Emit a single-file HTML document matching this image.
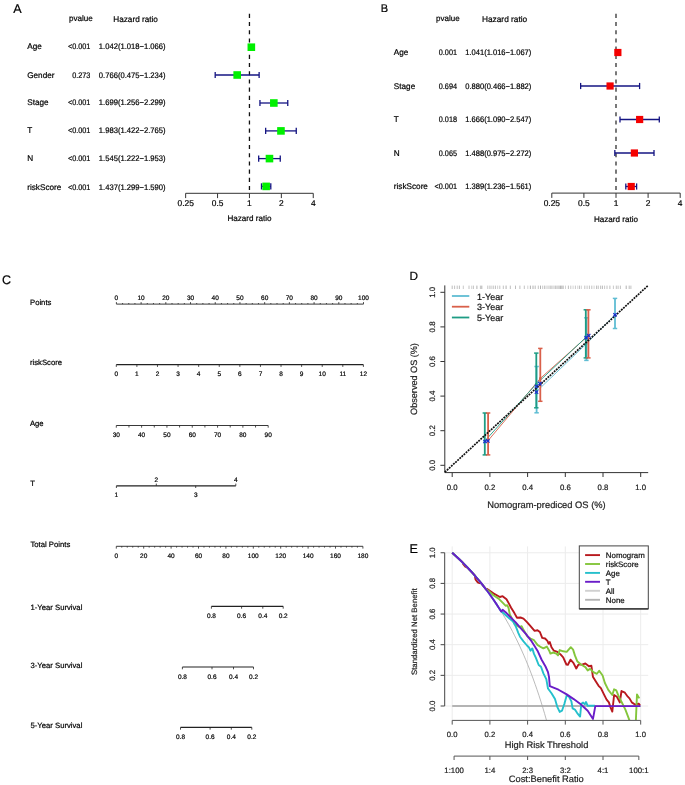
<!DOCTYPE html>
<html><head><meta charset="utf-8"><style>
html,body{margin:0;padding:0;background:#fff;}
body{width:685px;height:785px;overflow:hidden;font-family:"Liberation Sans",sans-serif;}
svg{display:block;will-change:transform;text-rendering:geometricPrecision;}
text{stroke-width:0.2px;}
</style></head><body>
<svg width="685" height="785" viewBox="0 0 685 785" font-family="Liberation Sans, sans-serif">
<rect width="685" height="785" fill="#fff"/>
<text x="13.2" y="12.8" font-size="12.6" text-anchor="start" fill="#000" stroke="#000">A</text>
<text x="68.9" y="20.9" font-size="8.1" text-anchor="start" fill="#000" stroke="#000">pvalue</text>
<text x="113.3" y="21.7" font-size="8.2" text-anchor="start" fill="#000" stroke="#000">Hazard ratio</text>
<text x="27.2" y="49.2" font-size="8.2" text-anchor="start" fill="#000" stroke="#000">Age</text>
<text x="90.4" y="49.2" font-size="8" text-anchor="end" fill="#000" stroke="#000" textLength="22.47" lengthAdjust="spacingAndGlyphs">&lt;0.001</text>
<text x="165.6" y="49.2" font-size="8" text-anchor="end" fill="#000" stroke="#000" textLength="66.8" lengthAdjust="spacingAndGlyphs">1.042(1.018−1.066)</text>
<text x="27.2" y="77.6" font-size="8.2" text-anchor="start" fill="#000" stroke="#000">Gender</text>
<text x="90.4" y="77.6" font-size="8" text-anchor="end" fill="#000" stroke="#000" textLength="18.22" lengthAdjust="spacingAndGlyphs">0.273</text>
<text x="165.6" y="77.6" font-size="8" text-anchor="end" fill="#000" stroke="#000" textLength="66.8" lengthAdjust="spacingAndGlyphs">0.766(0.475−1.234)</text>
<text x="27.2" y="105.3" font-size="8.2" text-anchor="start" fill="#000" stroke="#000">Stage</text>
<text x="90.4" y="105.3" font-size="8" text-anchor="end" fill="#000" stroke="#000" textLength="22.47" lengthAdjust="spacingAndGlyphs">&lt;0.001</text>
<text x="165.6" y="105.3" font-size="8" text-anchor="end" fill="#000" stroke="#000" textLength="66.8" lengthAdjust="spacingAndGlyphs">1.699(1.256−2.299)</text>
<text x="27.2" y="133.3" font-size="8.2" text-anchor="start" fill="#000" stroke="#000">T</text>
<text x="90.4" y="133.3" font-size="8" text-anchor="end" fill="#000" stroke="#000" textLength="22.47" lengthAdjust="spacingAndGlyphs">&lt;0.001</text>
<text x="165.6" y="133.3" font-size="8" text-anchor="end" fill="#000" stroke="#000" textLength="66.8" lengthAdjust="spacingAndGlyphs">1.983(1.422−2.765)</text>
<text x="27.2" y="161.3" font-size="8.2" text-anchor="start" fill="#000" stroke="#000">N</text>
<text x="90.4" y="161.3" font-size="8" text-anchor="end" fill="#000" stroke="#000" textLength="22.47" lengthAdjust="spacingAndGlyphs">&lt;0.001</text>
<text x="165.6" y="161.3" font-size="8" text-anchor="end" fill="#000" stroke="#000" textLength="66.8" lengthAdjust="spacingAndGlyphs">1.545(1.222−1.953)</text>
<text x="27.2" y="189.5" font-size="8.2" text-anchor="start" fill="#000" stroke="#000">riskScore</text>
<text x="90.4" y="189.5" font-size="8" text-anchor="end" fill="#000" stroke="#000" textLength="22.47" lengthAdjust="spacingAndGlyphs">&lt;0.001</text>
<text x="165.6" y="189.5" font-size="8" text-anchor="end" fill="#000" stroke="#000" textLength="66.8" lengthAdjust="spacingAndGlyphs">1.437(1.299−1.590)</text>
<line x1="249.45" y1="13.8" x2="249.45" y2="193.3" stroke="#111" stroke-width="1.3" stroke-dasharray="4.1 4.1"/>
<line x1="250.27" y1="47.2" x2="252.39" y2="47.2" stroke="#141482" stroke-width="1.3"/>
<line x1="250.27" y1="44.1" x2="250.27" y2="50.3" stroke="#141482" stroke-width="1.3"/>
<line x1="252.39" y1="44.1" x2="252.39" y2="50.3" stroke="#141482" stroke-width="1.3"/>
<rect x="247.54" y="43.4" width="7.6" height="7.6" fill="#00f000"/>
<line x1="215.19" y1="75" x2="259.13" y2="75" stroke="#141482" stroke-width="1.3"/>
<line x1="215.19" y1="71.9" x2="215.19" y2="78.1" stroke="#141482" stroke-width="1.3"/>
<line x1="259.13" y1="71.9" x2="259.13" y2="78.1" stroke="#141482" stroke-width="1.3"/>
<rect x="233.38" y="71.2" width="7.6" height="7.6" fill="#00f000"/>
<line x1="259.94" y1="103" x2="287.76" y2="103" stroke="#141482" stroke-width="1.3"/>
<line x1="259.94" y1="99.9" x2="259.94" y2="106.1" stroke="#141482" stroke-width="1.3"/>
<line x1="287.76" y1="99.9" x2="287.76" y2="106.1" stroke="#141482" stroke-width="1.3"/>
<rect x="270.04" y="99.2" width="7.6" height="7.6" fill="#00f000"/>
<line x1="265.65" y1="130.9" x2="296.26" y2="130.9" stroke="#141482" stroke-width="1.3"/>
<line x1="265.65" y1="127.8" x2="265.65" y2="134" stroke="#141482" stroke-width="1.3"/>
<line x1="296.26" y1="127.8" x2="296.26" y2="134" stroke="#141482" stroke-width="1.3"/>
<rect x="277.16" y="127.1" width="7.6" height="7.6" fill="#00f000"/>
<line x1="258.68" y1="158.6" x2="280.26" y2="158.6" stroke="#141482" stroke-width="1.3"/>
<line x1="258.68" y1="155.5" x2="258.68" y2="161.7" stroke="#141482" stroke-width="1.3"/>
<line x1="280.26" y1="155.5" x2="280.26" y2="161.7" stroke="#141482" stroke-width="1.3"/>
<rect x="265.67" y="154.8" width="7.6" height="7.6" fill="#00f000"/>
<line x1="261.49" y1="186.4" x2="270.79" y2="186.4" stroke="#141482" stroke-width="1.3"/>
<line x1="261.49" y1="183.3" x2="261.49" y2="189.5" stroke="#141482" stroke-width="1.3"/>
<line x1="270.79" y1="183.3" x2="270.79" y2="189.5" stroke="#141482" stroke-width="1.3"/>
<rect x="262.34" y="182.6" width="7.6" height="7.6" fill="#00f000"/>
<line x1="185.65" y1="193.3" x2="313.25" y2="193.3" stroke="#333" stroke-width="1"/>
<line x1="185.65" y1="193.3" x2="185.65" y2="198.1" stroke="#333" stroke-width="1"/>
<text x="185.65" y="206.4" font-size="8.4" text-anchor="middle" fill="#000" stroke="#000">0.25</text>
<line x1="217.55" y1="193.3" x2="217.55" y2="198.1" stroke="#333" stroke-width="1"/>
<text x="217.55" y="206.4" font-size="8.4" text-anchor="middle" fill="#000" stroke="#000">0.5</text>
<line x1="249.45" y1="193.3" x2="249.45" y2="198.1" stroke="#333" stroke-width="1"/>
<text x="249.45" y="206.4" font-size="8.4" text-anchor="middle" fill="#000" stroke="#000">1</text>
<line x1="281.35" y1="193.3" x2="281.35" y2="198.1" stroke="#333" stroke-width="1"/>
<text x="281.35" y="206.4" font-size="8.4" text-anchor="middle" fill="#000" stroke="#000">2</text>
<line x1="313.25" y1="193.3" x2="313.25" y2="198.1" stroke="#333" stroke-width="1"/>
<text x="313.25" y="206.4" font-size="8.4" text-anchor="middle" fill="#000" stroke="#000">4</text>
<text x="249.45" y="221.3" font-size="8.1" text-anchor="middle" fill="#000" stroke="#000">Hazard ratio</text>
<text x="380.7" y="12.2" font-size="11" text-anchor="start" fill="#000" stroke="#000">B</text>
<text x="436" y="20.7" font-size="8" text-anchor="start" fill="#000" stroke="#000">pvalue</text>
<text x="482" y="21.5" font-size="8.3" text-anchor="start" fill="#000" stroke="#000">Hazard ratio</text>
<text x="393.8" y="54.9" font-size="8.2" text-anchor="start" fill="#000" stroke="#000">Age</text>
<text x="457" y="54.9" font-size="8" text-anchor="end" fill="#000" stroke="#000" textLength="18.22" lengthAdjust="spacingAndGlyphs">0.001</text>
<text x="531.3" y="54.9" font-size="8" text-anchor="end" fill="#000" stroke="#000" textLength="66" lengthAdjust="spacingAndGlyphs">1.041(1.016−1.067)</text>
<text x="393.8" y="88.5" font-size="8.2" text-anchor="start" fill="#000" stroke="#000">Stage</text>
<text x="457" y="88.5" font-size="8" text-anchor="end" fill="#000" stroke="#000" textLength="18.22" lengthAdjust="spacingAndGlyphs">0.694</text>
<text x="531.3" y="88.5" font-size="8" text-anchor="end" fill="#000" stroke="#000" textLength="66" lengthAdjust="spacingAndGlyphs">0.880(0.466−1.882)</text>
<text x="393.8" y="122.4" font-size="8.2" text-anchor="start" fill="#000" stroke="#000">T</text>
<text x="457" y="122.4" font-size="8" text-anchor="end" fill="#000" stroke="#000" textLength="18.22" lengthAdjust="spacingAndGlyphs">0.018</text>
<text x="531.3" y="122.4" font-size="8" text-anchor="end" fill="#000" stroke="#000" textLength="66" lengthAdjust="spacingAndGlyphs">1.666(1.090−2.547)</text>
<text x="393.8" y="155.8" font-size="8.2" text-anchor="start" fill="#000" stroke="#000">N</text>
<text x="457" y="155.8" font-size="8" text-anchor="end" fill="#000" stroke="#000" textLength="18.22" lengthAdjust="spacingAndGlyphs">0.065</text>
<text x="531.3" y="155.8" font-size="8" text-anchor="end" fill="#000" stroke="#000" textLength="66" lengthAdjust="spacingAndGlyphs">1.488(0.975−2.272)</text>
<text x="393.8" y="189.4" font-size="8.2" text-anchor="start" fill="#000" stroke="#000">riskScore</text>
<text x="457" y="189.4" font-size="8" text-anchor="end" fill="#000" stroke="#000" textLength="22.47" lengthAdjust="spacingAndGlyphs">&lt;0.001</text>
<text x="531.3" y="189.4" font-size="8" text-anchor="end" fill="#000" stroke="#000" textLength="66" lengthAdjust="spacingAndGlyphs">1.389(1.236−1.561)</text>
<line x1="616" y1="13.8" x2="616" y2="193.1" stroke="#585858" stroke-width="1.6" stroke-dasharray="4.1 4.1"/>
<line x1="616.74" y1="52.5" x2="619" y2="52.5" stroke="#141482" stroke-width="1.3"/>
<line x1="616.74" y1="49.4" x2="616.74" y2="55.6" stroke="#141482" stroke-width="1.3"/>
<line x1="619" y1="49.4" x2="619" y2="55.6" stroke="#141482" stroke-width="1.3"/>
<rect x="614.26" y="48.9" width="7.2" height="7.2" fill="#f40000"/>
<line x1="580.64" y1="86" x2="639.6" y2="86" stroke="#141482" stroke-width="1.3"/>
<line x1="580.64" y1="82.9" x2="580.64" y2="89.1" stroke="#141482" stroke-width="1.3"/>
<line x1="639.6" y1="82.9" x2="639.6" y2="89.1" stroke="#141482" stroke-width="1.3"/>
<rect x="606.48" y="82.4" width="7.2" height="7.2" fill="#f40000"/>
<line x1="619.99" y1="119.5" x2="659.3" y2="119.5" stroke="#141482" stroke-width="1.3"/>
<line x1="619.99" y1="116.4" x2="619.99" y2="122.6" stroke="#141482" stroke-width="1.3"/>
<line x1="659.3" y1="116.4" x2="659.3" y2="122.6" stroke="#141482" stroke-width="1.3"/>
<rect x="636.04" y="115.9" width="7.2" height="7.2" fill="#f40000"/>
<line x1="614.83" y1="153" x2="654.01" y2="153" stroke="#141482" stroke-width="1.3"/>
<line x1="614.83" y1="149.9" x2="614.83" y2="156.1" stroke="#141482" stroke-width="1.3"/>
<line x1="654.01" y1="149.9" x2="654.01" y2="156.1" stroke="#141482" stroke-width="1.3"/>
<rect x="630.81" y="149.4" width="7.2" height="7.2" fill="#f40000"/>
<line x1="625.81" y1="186.5" x2="636.62" y2="186.5" stroke="#141482" stroke-width="1.3"/>
<line x1="625.81" y1="183.4" x2="625.81" y2="189.6" stroke="#141482" stroke-width="1.3"/>
<line x1="636.62" y1="183.4" x2="636.62" y2="189.6" stroke="#141482" stroke-width="1.3"/>
<rect x="627.62" y="182.9" width="7.2" height="7.2" fill="#f40000"/>
<line x1="551.8" y1="193.1" x2="680.2" y2="193.1" stroke="#333" stroke-width="1"/>
<line x1="551.8" y1="193.1" x2="551.8" y2="197.9" stroke="#333" stroke-width="1"/>
<text x="551.8" y="206.4" font-size="8.4" text-anchor="middle" fill="#000" stroke="#000">0.25</text>
<line x1="583.9" y1="193.1" x2="583.9" y2="197.9" stroke="#333" stroke-width="1"/>
<text x="583.9" y="206.4" font-size="8.4" text-anchor="middle" fill="#000" stroke="#000">0.5</text>
<line x1="616" y1="193.1" x2="616" y2="197.9" stroke="#333" stroke-width="1"/>
<text x="616" y="206.4" font-size="8.4" text-anchor="middle" fill="#000" stroke="#000">1</text>
<line x1="648.1" y1="193.1" x2="648.1" y2="197.9" stroke="#333" stroke-width="1"/>
<text x="648.1" y="206.4" font-size="8.4" text-anchor="middle" fill="#000" stroke="#000">2</text>
<line x1="680.2" y1="193.1" x2="680.2" y2="197.9" stroke="#333" stroke-width="1"/>
<text x="680.2" y="206.4" font-size="8.4" text-anchor="middle" fill="#000" stroke="#000">4</text>
<text x="616" y="221.9" font-size="8.1" text-anchor="middle" fill="#000" stroke="#000">Hazard ratio</text>
<text x="2" y="284" font-size="12.5" text-anchor="start" fill="#000" stroke="#000">C</text>
<text x="30" y="304.8" font-size="7.7" text-anchor="start" fill="#000" stroke="#000">Points</text>
<line x1="116.4" y1="304.1" x2="363.5" y2="304.1" stroke="#222" stroke-width="0.9"/>
<line x1="116.4" y1="304.1" x2="116.4" y2="302.1" stroke="#222" stroke-width="0.8"/>
<text x="116.4" y="300" font-size="6.5" text-anchor="middle" fill="#000" stroke="#000">0</text>
<line x1="122.58" y1="304.1" x2="122.58" y2="303" stroke="#222" stroke-width="0.8"/>
<line x1="128.75" y1="304.1" x2="128.75" y2="303" stroke="#222" stroke-width="0.8"/>
<line x1="134.93" y1="304.1" x2="134.93" y2="303" stroke="#222" stroke-width="0.8"/>
<line x1="141.11" y1="304.1" x2="141.11" y2="302.1" stroke="#222" stroke-width="0.8"/>
<text x="141.11" y="300" font-size="6.5" text-anchor="middle" fill="#000" stroke="#000">10</text>
<line x1="147.29" y1="304.1" x2="147.29" y2="303" stroke="#222" stroke-width="0.8"/>
<line x1="153.47" y1="304.1" x2="153.47" y2="303" stroke="#222" stroke-width="0.8"/>
<line x1="159.64" y1="304.1" x2="159.64" y2="303" stroke="#222" stroke-width="0.8"/>
<line x1="165.82" y1="304.1" x2="165.82" y2="302.1" stroke="#222" stroke-width="0.8"/>
<text x="165.82" y="300" font-size="6.5" text-anchor="middle" fill="#000" stroke="#000">20</text>
<line x1="172" y1="304.1" x2="172" y2="303" stroke="#222" stroke-width="0.8"/>
<line x1="178.18" y1="304.1" x2="178.18" y2="303" stroke="#222" stroke-width="0.8"/>
<line x1="184.35" y1="304.1" x2="184.35" y2="303" stroke="#222" stroke-width="0.8"/>
<line x1="190.53" y1="304.1" x2="190.53" y2="302.1" stroke="#222" stroke-width="0.8"/>
<text x="190.53" y="300" font-size="6.5" text-anchor="middle" fill="#000" stroke="#000">30</text>
<line x1="196.71" y1="304.1" x2="196.71" y2="303" stroke="#222" stroke-width="0.8"/>
<line x1="202.88" y1="304.1" x2="202.88" y2="303" stroke="#222" stroke-width="0.8"/>
<line x1="209.06" y1="304.1" x2="209.06" y2="303" stroke="#222" stroke-width="0.8"/>
<line x1="215.24" y1="304.1" x2="215.24" y2="302.1" stroke="#222" stroke-width="0.8"/>
<text x="215.24" y="300" font-size="6.5" text-anchor="middle" fill="#000" stroke="#000">40</text>
<line x1="221.42" y1="304.1" x2="221.42" y2="303" stroke="#222" stroke-width="0.8"/>
<line x1="227.59" y1="304.1" x2="227.59" y2="303" stroke="#222" stroke-width="0.8"/>
<line x1="233.77" y1="304.1" x2="233.77" y2="303" stroke="#222" stroke-width="0.8"/>
<line x1="239.95" y1="304.1" x2="239.95" y2="302.1" stroke="#222" stroke-width="0.8"/>
<text x="239.95" y="300" font-size="6.5" text-anchor="middle" fill="#000" stroke="#000">50</text>
<line x1="246.13" y1="304.1" x2="246.13" y2="303" stroke="#222" stroke-width="0.8"/>
<line x1="252.31" y1="304.1" x2="252.31" y2="303" stroke="#222" stroke-width="0.8"/>
<line x1="258.48" y1="304.1" x2="258.48" y2="303" stroke="#222" stroke-width="0.8"/>
<line x1="264.66" y1="304.1" x2="264.66" y2="302.1" stroke="#222" stroke-width="0.8"/>
<text x="264.66" y="300" font-size="6.5" text-anchor="middle" fill="#000" stroke="#000">60</text>
<line x1="270.84" y1="304.1" x2="270.84" y2="303" stroke="#222" stroke-width="0.8"/>
<line x1="277.01" y1="304.1" x2="277.01" y2="303" stroke="#222" stroke-width="0.8"/>
<line x1="283.19" y1="304.1" x2="283.19" y2="303" stroke="#222" stroke-width="0.8"/>
<line x1="289.37" y1="304.1" x2="289.37" y2="302.1" stroke="#222" stroke-width="0.8"/>
<text x="289.37" y="300" font-size="6.5" text-anchor="middle" fill="#000" stroke="#000">70</text>
<line x1="295.55" y1="304.1" x2="295.55" y2="303" stroke="#222" stroke-width="0.8"/>
<line x1="301.73" y1="304.1" x2="301.73" y2="303" stroke="#222" stroke-width="0.8"/>
<line x1="307.9" y1="304.1" x2="307.9" y2="303" stroke="#222" stroke-width="0.8"/>
<line x1="314.08" y1="304.1" x2="314.08" y2="302.1" stroke="#222" stroke-width="0.8"/>
<text x="314.08" y="300" font-size="6.5" text-anchor="middle" fill="#000" stroke="#000">80</text>
<line x1="320.26" y1="304.1" x2="320.26" y2="303" stroke="#222" stroke-width="0.8"/>
<line x1="326.44" y1="304.1" x2="326.44" y2="303" stroke="#222" stroke-width="0.8"/>
<line x1="332.61" y1="304.1" x2="332.61" y2="303" stroke="#222" stroke-width="0.8"/>
<line x1="338.79" y1="304.1" x2="338.79" y2="302.1" stroke="#222" stroke-width="0.8"/>
<text x="338.79" y="300" font-size="6.5" text-anchor="middle" fill="#000" stroke="#000">90</text>
<line x1="344.97" y1="304.1" x2="344.97" y2="303" stroke="#222" stroke-width="0.8"/>
<line x1="351.14" y1="304.1" x2="351.14" y2="303" stroke="#222" stroke-width="0.8"/>
<line x1="357.32" y1="304.1" x2="357.32" y2="303" stroke="#222" stroke-width="0.8"/>
<line x1="363.5" y1="304.1" x2="363.5" y2="302.1" stroke="#222" stroke-width="0.8"/>
<text x="363.5" y="300" font-size="6.5" text-anchor="middle" fill="#000" stroke="#000">100</text>
<text x="30" y="365.2" font-size="7.7" text-anchor="start" fill="#000" stroke="#000">riskScore</text>
<line x1="116.3" y1="364.7" x2="363.4" y2="364.7" stroke="#222" stroke-width="1.3"/>
<line x1="116.3" y1="364.7" x2="116.3" y2="366.9" stroke="#222" stroke-width="0.8"/>
<text x="116.3" y="376.2" font-size="6.5" text-anchor="middle" fill="#000" stroke="#000">0</text>
<line x1="136.89" y1="364.7" x2="136.89" y2="366.9" stroke="#222" stroke-width="0.8"/>
<text x="136.89" y="376.2" font-size="6.5" text-anchor="middle" fill="#000" stroke="#000">1</text>
<line x1="157.48" y1="364.7" x2="157.48" y2="366.9" stroke="#222" stroke-width="0.8"/>
<text x="157.48" y="376.2" font-size="6.5" text-anchor="middle" fill="#000" stroke="#000">2</text>
<line x1="178.07" y1="364.7" x2="178.07" y2="366.9" stroke="#222" stroke-width="0.8"/>
<text x="178.07" y="376.2" font-size="6.5" text-anchor="middle" fill="#000" stroke="#000">3</text>
<line x1="198.67" y1="364.7" x2="198.67" y2="366.9" stroke="#222" stroke-width="0.8"/>
<text x="198.67" y="376.2" font-size="6.5" text-anchor="middle" fill="#000" stroke="#000">4</text>
<line x1="219.26" y1="364.7" x2="219.26" y2="366.9" stroke="#222" stroke-width="0.8"/>
<text x="219.26" y="376.2" font-size="6.5" text-anchor="middle" fill="#000" stroke="#000">5</text>
<line x1="239.85" y1="364.7" x2="239.85" y2="366.9" stroke="#222" stroke-width="0.8"/>
<text x="239.85" y="376.2" font-size="6.5" text-anchor="middle" fill="#000" stroke="#000">6</text>
<line x1="260.44" y1="364.7" x2="260.44" y2="366.9" stroke="#222" stroke-width="0.8"/>
<text x="260.44" y="376.2" font-size="6.5" text-anchor="middle" fill="#000" stroke="#000">7</text>
<line x1="281.03" y1="364.7" x2="281.03" y2="366.9" stroke="#222" stroke-width="0.8"/>
<text x="281.03" y="376.2" font-size="6.5" text-anchor="middle" fill="#000" stroke="#000">8</text>
<line x1="301.62" y1="364.7" x2="301.62" y2="366.9" stroke="#222" stroke-width="0.8"/>
<text x="301.62" y="376.2" font-size="6.5" text-anchor="middle" fill="#000" stroke="#000">9</text>
<line x1="322.22" y1="364.7" x2="322.22" y2="366.9" stroke="#222" stroke-width="0.8"/>
<text x="322.22" y="376.2" font-size="6.5" text-anchor="middle" fill="#000" stroke="#000">10</text>
<line x1="342.81" y1="364.7" x2="342.81" y2="366.9" stroke="#222" stroke-width="0.8"/>
<text x="342.81" y="376.2" font-size="6.5" text-anchor="middle" fill="#000" stroke="#000">11</text>
<line x1="363.4" y1="364.7" x2="363.4" y2="366.9" stroke="#222" stroke-width="0.8"/>
<text x="363.4" y="376.2" font-size="6.5" text-anchor="middle" fill="#000" stroke="#000">12</text>
<text x="29.9" y="425.8" font-size="7.7" text-anchor="start" fill="#000" stroke="#000">Age</text>
<line x1="116.3" y1="425.5" x2="268.2" y2="425.5" stroke="#222" stroke-width="0.9"/>
<line x1="116.3" y1="425.5" x2="116.3" y2="427.7" stroke="#222" stroke-width="0.8"/>
<text x="116.3" y="436.5" font-size="6.5" text-anchor="middle" fill="#000" stroke="#000">30</text>
<line x1="128.96" y1="425.5" x2="128.96" y2="427.5" stroke="#222" stroke-width="0.8"/>
<line x1="141.62" y1="425.5" x2="141.62" y2="427.7" stroke="#222" stroke-width="0.8"/>
<text x="141.62" y="436.5" font-size="6.5" text-anchor="middle" fill="#000" stroke="#000">40</text>
<line x1="154.27" y1="425.5" x2="154.27" y2="427.5" stroke="#222" stroke-width="0.8"/>
<line x1="166.93" y1="425.5" x2="166.93" y2="427.7" stroke="#222" stroke-width="0.8"/>
<text x="166.93" y="436.5" font-size="6.5" text-anchor="middle" fill="#000" stroke="#000">50</text>
<line x1="179.59" y1="425.5" x2="179.59" y2="427.5" stroke="#222" stroke-width="0.8"/>
<line x1="192.25" y1="425.5" x2="192.25" y2="427.7" stroke="#222" stroke-width="0.8"/>
<text x="192.25" y="436.5" font-size="6.5" text-anchor="middle" fill="#000" stroke="#000">60</text>
<line x1="204.91" y1="425.5" x2="204.91" y2="427.5" stroke="#222" stroke-width="0.8"/>
<line x1="217.57" y1="425.5" x2="217.57" y2="427.7" stroke="#222" stroke-width="0.8"/>
<text x="217.57" y="436.5" font-size="6.5" text-anchor="middle" fill="#000" stroke="#000">70</text>
<line x1="230.22" y1="425.5" x2="230.22" y2="427.5" stroke="#222" stroke-width="0.8"/>
<line x1="242.88" y1="425.5" x2="242.88" y2="427.7" stroke="#222" stroke-width="0.8"/>
<text x="242.88" y="436.5" font-size="6.5" text-anchor="middle" fill="#000" stroke="#000">80</text>
<line x1="255.54" y1="425.5" x2="255.54" y2="427.5" stroke="#222" stroke-width="0.8"/>
<line x1="268.2" y1="425.5" x2="268.2" y2="427.7" stroke="#222" stroke-width="0.8"/>
<text x="268.2" y="436.5" font-size="6.5" text-anchor="middle" fill="#000" stroke="#000">90</text>
<text x="30.2" y="485.9" font-size="7.7" text-anchor="start" fill="#000" stroke="#000">T</text>
<line x1="116.4" y1="485.8" x2="235.8" y2="485.8" stroke="#222" stroke-width="1.3"/>
<line x1="116.4" y1="485.8" x2="116.4" y2="488" stroke="#222" stroke-width="0.8"/>
<text x="116.4" y="497.3" font-size="6.5" text-anchor="middle" fill="#000" stroke="#000">1</text>
<line x1="156.3" y1="485.8" x2="156.3" y2="483.6" stroke="#222" stroke-width="0.8"/>
<text x="156.3" y="482" font-size="6.5" text-anchor="middle" fill="#000" stroke="#000">2</text>
<line x1="195.7" y1="485.8" x2="195.7" y2="488" stroke="#222" stroke-width="0.8"/>
<text x="195.7" y="497.3" font-size="6.5" text-anchor="middle" fill="#000" stroke="#000">3</text>
<line x1="235.8" y1="485.8" x2="235.8" y2="483.6" stroke="#222" stroke-width="0.8"/>
<text x="235.8" y="482" font-size="6.5" text-anchor="middle" fill="#000" stroke="#000">4</text>
<text x="30.5" y="546.8" font-size="7.7" text-anchor="start" fill="#000" stroke="#000">Total Points</text>
<line x1="116.3" y1="546.3" x2="362.9" y2="546.3" stroke="#222" stroke-width="0.9"/>
<line x1="116.3" y1="546.3" x2="116.3" y2="548.6" stroke="#222" stroke-width="0.8"/>
<text x="116.3" y="557.6" font-size="6.5" text-anchor="middle" fill="#000" stroke="#000">0</text>
<line x1="121.78" y1="546.3" x2="121.78" y2="547.6" stroke="#222" stroke-width="0.8"/>
<line x1="127.26" y1="546.3" x2="127.26" y2="547.6" stroke="#222" stroke-width="0.8"/>
<line x1="132.74" y1="546.3" x2="132.74" y2="547.6" stroke="#222" stroke-width="0.8"/>
<line x1="138.22" y1="546.3" x2="138.22" y2="547.6" stroke="#222" stroke-width="0.8"/>
<line x1="143.7" y1="546.3" x2="143.7" y2="548.6" stroke="#222" stroke-width="0.8"/>
<text x="143.7" y="557.6" font-size="6.5" text-anchor="middle" fill="#000" stroke="#000">20</text>
<line x1="149.18" y1="546.3" x2="149.18" y2="547.6" stroke="#222" stroke-width="0.8"/>
<line x1="154.66" y1="546.3" x2="154.66" y2="547.6" stroke="#222" stroke-width="0.8"/>
<line x1="160.14" y1="546.3" x2="160.14" y2="547.6" stroke="#222" stroke-width="0.8"/>
<line x1="165.62" y1="546.3" x2="165.62" y2="547.6" stroke="#222" stroke-width="0.8"/>
<line x1="171.1" y1="546.3" x2="171.1" y2="548.6" stroke="#222" stroke-width="0.8"/>
<text x="171.1" y="557.6" font-size="6.5" text-anchor="middle" fill="#000" stroke="#000">40</text>
<line x1="176.58" y1="546.3" x2="176.58" y2="547.6" stroke="#222" stroke-width="0.8"/>
<line x1="182.06" y1="546.3" x2="182.06" y2="547.6" stroke="#222" stroke-width="0.8"/>
<line x1="187.54" y1="546.3" x2="187.54" y2="547.6" stroke="#222" stroke-width="0.8"/>
<line x1="193.02" y1="546.3" x2="193.02" y2="547.6" stroke="#222" stroke-width="0.8"/>
<line x1="198.5" y1="546.3" x2="198.5" y2="548.6" stroke="#222" stroke-width="0.8"/>
<text x="198.5" y="557.6" font-size="6.5" text-anchor="middle" fill="#000" stroke="#000">60</text>
<line x1="203.98" y1="546.3" x2="203.98" y2="547.6" stroke="#222" stroke-width="0.8"/>
<line x1="209.46" y1="546.3" x2="209.46" y2="547.6" stroke="#222" stroke-width="0.8"/>
<line x1="214.94" y1="546.3" x2="214.94" y2="547.6" stroke="#222" stroke-width="0.8"/>
<line x1="220.42" y1="546.3" x2="220.42" y2="547.6" stroke="#222" stroke-width="0.8"/>
<line x1="225.9" y1="546.3" x2="225.9" y2="548.6" stroke="#222" stroke-width="0.8"/>
<text x="225.9" y="557.6" font-size="6.5" text-anchor="middle" fill="#000" stroke="#000">80</text>
<line x1="231.38" y1="546.3" x2="231.38" y2="547.6" stroke="#222" stroke-width="0.8"/>
<line x1="236.86" y1="546.3" x2="236.86" y2="547.6" stroke="#222" stroke-width="0.8"/>
<line x1="242.34" y1="546.3" x2="242.34" y2="547.6" stroke="#222" stroke-width="0.8"/>
<line x1="247.82" y1="546.3" x2="247.82" y2="547.6" stroke="#222" stroke-width="0.8"/>
<line x1="253.3" y1="546.3" x2="253.3" y2="548.6" stroke="#222" stroke-width="0.8"/>
<text x="253.3" y="557.6" font-size="6.5" text-anchor="middle" fill="#000" stroke="#000">100</text>
<line x1="258.78" y1="546.3" x2="258.78" y2="547.6" stroke="#222" stroke-width="0.8"/>
<line x1="264.26" y1="546.3" x2="264.26" y2="547.6" stroke="#222" stroke-width="0.8"/>
<line x1="269.74" y1="546.3" x2="269.74" y2="547.6" stroke="#222" stroke-width="0.8"/>
<line x1="275.22" y1="546.3" x2="275.22" y2="547.6" stroke="#222" stroke-width="0.8"/>
<line x1="280.7" y1="546.3" x2="280.7" y2="548.6" stroke="#222" stroke-width="0.8"/>
<text x="280.7" y="557.6" font-size="6.5" text-anchor="middle" fill="#000" stroke="#000">120</text>
<line x1="286.18" y1="546.3" x2="286.18" y2="547.6" stroke="#222" stroke-width="0.8"/>
<line x1="291.66" y1="546.3" x2="291.66" y2="547.6" stroke="#222" stroke-width="0.8"/>
<line x1="297.14" y1="546.3" x2="297.14" y2="547.6" stroke="#222" stroke-width="0.8"/>
<line x1="302.62" y1="546.3" x2="302.62" y2="547.6" stroke="#222" stroke-width="0.8"/>
<line x1="308.1" y1="546.3" x2="308.1" y2="548.6" stroke="#222" stroke-width="0.8"/>
<text x="308.1" y="557.6" font-size="6.5" text-anchor="middle" fill="#000" stroke="#000">140</text>
<line x1="313.58" y1="546.3" x2="313.58" y2="547.6" stroke="#222" stroke-width="0.8"/>
<line x1="319.06" y1="546.3" x2="319.06" y2="547.6" stroke="#222" stroke-width="0.8"/>
<line x1="324.54" y1="546.3" x2="324.54" y2="547.6" stroke="#222" stroke-width="0.8"/>
<line x1="330.02" y1="546.3" x2="330.02" y2="547.6" stroke="#222" stroke-width="0.8"/>
<line x1="335.5" y1="546.3" x2="335.5" y2="548.6" stroke="#222" stroke-width="0.8"/>
<text x="335.5" y="557.6" font-size="6.5" text-anchor="middle" fill="#000" stroke="#000">160</text>
<line x1="340.98" y1="546.3" x2="340.98" y2="547.6" stroke="#222" stroke-width="0.8"/>
<line x1="346.46" y1="546.3" x2="346.46" y2="547.6" stroke="#222" stroke-width="0.8"/>
<line x1="351.94" y1="546.3" x2="351.94" y2="547.6" stroke="#222" stroke-width="0.8"/>
<line x1="357.42" y1="546.3" x2="357.42" y2="547.6" stroke="#222" stroke-width="0.8"/>
<line x1="362.9" y1="546.3" x2="362.9" y2="548.6" stroke="#222" stroke-width="0.8"/>
<text x="362.9" y="557.6" font-size="6.5" text-anchor="middle" fill="#000" stroke="#000">180</text>
<text x="30.5" y="610.3" font-size="7.7" text-anchor="start" fill="#000" stroke="#000">1-Year Survival</text>
<line x1="211.4" y1="606.4" x2="283.2" y2="606.4" stroke="#222" stroke-width="1.1"/>
<line x1="211.4" y1="606.4" x2="211.4" y2="608.7" stroke="#222" stroke-width="0.8"/>
<text x="211.4" y="618.3" font-size="6.5" text-anchor="middle" fill="#000" stroke="#000">0.8</text>
<line x1="241.6" y1="606.4" x2="241.6" y2="608.7" stroke="#222" stroke-width="0.8"/>
<text x="241.6" y="618.3" font-size="6.5" text-anchor="middle" fill="#000" stroke="#000">0.6</text>
<line x1="262.8" y1="606.4" x2="262.8" y2="608.7" stroke="#222" stroke-width="0.8"/>
<text x="262.8" y="618.3" font-size="6.5" text-anchor="middle" fill="#000" stroke="#000">0.4</text>
<line x1="283.2" y1="606.4" x2="283.2" y2="608.7" stroke="#222" stroke-width="0.8"/>
<text x="283.2" y="618.3" font-size="6.5" text-anchor="middle" fill="#000" stroke="#000">0.2</text>
<text x="30.5" y="667.5" font-size="7.7" text-anchor="start" fill="#000" stroke="#000">3-Year Survival</text>
<line x1="182.4" y1="667" x2="253.5" y2="667" stroke="#222" stroke-width="1.1"/>
<line x1="182.4" y1="667" x2="182.4" y2="669.3" stroke="#222" stroke-width="0.8"/>
<text x="182.4" y="678.6" font-size="6.5" text-anchor="middle" fill="#000" stroke="#000">0.8</text>
<line x1="212" y1="667" x2="212" y2="669.3" stroke="#222" stroke-width="0.8"/>
<text x="212" y="678.6" font-size="6.5" text-anchor="middle" fill="#000" stroke="#000">0.6</text>
<line x1="233.5" y1="667" x2="233.5" y2="669.3" stroke="#222" stroke-width="0.8"/>
<text x="233.5" y="678.6" font-size="6.5" text-anchor="middle" fill="#000" stroke="#000">0.4</text>
<line x1="253.5" y1="667" x2="253.5" y2="669.3" stroke="#222" stroke-width="0.8"/>
<text x="253.5" y="678.6" font-size="6.5" text-anchor="middle" fill="#000" stroke="#000">0.2</text>
<text x="30.5" y="728.2" font-size="7.7" text-anchor="start" fill="#000" stroke="#000">5-Year Survival</text>
<line x1="180.5" y1="727.4" x2="251.8" y2="727.4" stroke="#222" stroke-width="1.1"/>
<line x1="180.5" y1="727.4" x2="180.5" y2="729.7" stroke="#222" stroke-width="0.8"/>
<text x="180.5" y="739" font-size="6.5" text-anchor="middle" fill="#000" stroke="#000">0.8</text>
<line x1="210.1" y1="727.4" x2="210.1" y2="729.7" stroke="#222" stroke-width="0.8"/>
<text x="210.1" y="739" font-size="6.5" text-anchor="middle" fill="#000" stroke="#000">0.6</text>
<line x1="231.3" y1="727.4" x2="231.3" y2="729.7" stroke="#222" stroke-width="0.8"/>
<text x="231.3" y="739" font-size="6.5" text-anchor="middle" fill="#000" stroke="#000">0.4</text>
<line x1="251.8" y1="727.4" x2="251.8" y2="729.7" stroke="#222" stroke-width="0.8"/>
<text x="251.8" y="739" font-size="6.5" text-anchor="middle" fill="#000" stroke="#000">0.2</text>
<text x="409.5" y="279.9" font-size="11.8" text-anchor="start" fill="#000" stroke="#000">D</text>
<line x1="444.8" y1="285.4" x2="444.8" y2="472.6" stroke="#333" stroke-width="1"/>
<line x1="444.8" y1="472.6" x2="648.2" y2="472.6" stroke="#333" stroke-width="1"/>
<line x1="440.4" y1="465.3" x2="444.8" y2="465.3" stroke="#333" stroke-width="1"/>
<text transform="translate(435.4,465.3) rotate(-90)" font-size="7.9" text-anchor="middle" fill="#222" stroke="#222">0.0</text>
<line x1="452.2" y1="472.6" x2="452.2" y2="477" stroke="#333" stroke-width="1"/>
<text x="452.2" y="490" font-size="7.8" text-anchor="middle" fill="#222" stroke="#222">0.0</text>
<line x1="440.4" y1="430.7" x2="444.8" y2="430.7" stroke="#333" stroke-width="1"/>
<text transform="translate(435.4,430.7) rotate(-90)" font-size="7.9" text-anchor="middle" fill="#222" stroke="#222">0.2</text>
<line x1="489.9" y1="472.6" x2="489.9" y2="477" stroke="#333" stroke-width="1"/>
<text x="489.9" y="490" font-size="7.8" text-anchor="middle" fill="#222" stroke="#222">0.2</text>
<line x1="440.4" y1="396.1" x2="444.8" y2="396.1" stroke="#333" stroke-width="1"/>
<text transform="translate(435.4,396.1) rotate(-90)" font-size="7.9" text-anchor="middle" fill="#222" stroke="#222">0.4</text>
<line x1="527.6" y1="472.6" x2="527.6" y2="477" stroke="#333" stroke-width="1"/>
<text x="527.6" y="490" font-size="7.8" text-anchor="middle" fill="#222" stroke="#222">0.4</text>
<line x1="440.4" y1="361.5" x2="444.8" y2="361.5" stroke="#333" stroke-width="1"/>
<text transform="translate(435.4,361.5) rotate(-90)" font-size="7.9" text-anchor="middle" fill="#222" stroke="#222">0.6</text>
<line x1="565.3" y1="472.6" x2="565.3" y2="477" stroke="#333" stroke-width="1"/>
<text x="565.3" y="490" font-size="7.8" text-anchor="middle" fill="#222" stroke="#222">0.6</text>
<line x1="440.4" y1="326.9" x2="444.8" y2="326.9" stroke="#333" stroke-width="1"/>
<text transform="translate(435.4,326.9) rotate(-90)" font-size="7.9" text-anchor="middle" fill="#222" stroke="#222">0.8</text>
<line x1="603" y1="472.6" x2="603" y2="477" stroke="#333" stroke-width="1"/>
<text x="603" y="490" font-size="7.8" text-anchor="middle" fill="#222" stroke="#222">0.8</text>
<line x1="440.4" y1="292.3" x2="444.8" y2="292.3" stroke="#333" stroke-width="1"/>
<text transform="translate(435.4,292.3) rotate(-90)" font-size="7.9" text-anchor="middle" fill="#222" stroke="#222">1.0</text>
<line x1="640.7" y1="472.6" x2="640.7" y2="477" stroke="#333" stroke-width="1"/>
<text x="640.7" y="490" font-size="7.8" text-anchor="middle" fill="#222" stroke="#222">1.0</text>
<text x="546.5" y="507.9" font-size="9.35" text-anchor="middle" fill="#222" stroke="#222">Nomogram-prediced OS (%)</text>
<text transform="translate(417.4,379) rotate(-90)" font-size="9.1" text-anchor="middle" fill="#222" stroke="#222">Observed OS (%)</text>
<line x1="452.2" y1="285.6" x2="452.2" y2="289" stroke="#999" stroke-width="0.65"/>
<line x1="454.6" y1="285.6" x2="454.6" y2="289" stroke="#a0a0a0" stroke-width="0.65"/>
<line x1="457.2" y1="285.6" x2="457.2" y2="289" stroke="#a0a0a0" stroke-width="0.65"/>
<line x1="459.4" y1="285.6" x2="459.4" y2="289" stroke="#999" stroke-width="0.65"/>
<line x1="463.3" y1="285.6" x2="463.3" y2="289" stroke="#aaa" stroke-width="0.65"/>
<line x1="469" y1="285.6" x2="469" y2="289" stroke="#a0a0a0" stroke-width="0.65"/>
<line x1="471.7" y1="285.6" x2="471.7" y2="289" stroke="#bbb" stroke-width="0.65"/>
<line x1="473.4" y1="285.6" x2="473.4" y2="289" stroke="#a0a0a0" stroke-width="0.65"/>
<line x1="476.9" y1="285.6" x2="476.9" y2="289" stroke="#888" stroke-width="0.65"/>
<line x1="480.4" y1="285.6" x2="480.4" y2="289" stroke="#a0a0a0" stroke-width="0.65"/>
<line x1="481.8" y1="285.6" x2="481.8" y2="289" stroke="#888" stroke-width="0.65"/>
<line x1="487.5" y1="285.6" x2="487.5" y2="289" stroke="#bbb" stroke-width="0.65"/>
<line x1="489.2" y1="285.6" x2="489.2" y2="289" stroke="#aaa" stroke-width="0.65"/>
<line x1="491" y1="285.6" x2="491" y2="289" stroke="#a0a0a0" stroke-width="0.65"/>
<line x1="493.2" y1="285.6" x2="493.2" y2="289" stroke="#999" stroke-width="0.65"/>
<line x1="495.4" y1="285.6" x2="495.4" y2="289" stroke="#999" stroke-width="0.65"/>
<line x1="497.6" y1="285.6" x2="497.6" y2="289" stroke="#bbb" stroke-width="0.65"/>
<line x1="499.8" y1="285.6" x2="499.8" y2="289" stroke="#a0a0a0" stroke-width="0.65"/>
<line x1="503.3" y1="285.6" x2="503.3" y2="289" stroke="#a0a0a0" stroke-width="0.65"/>
<line x1="505.9" y1="285.6" x2="505.9" y2="289" stroke="#bbb" stroke-width="0.65"/>
<line x1="506.3" y1="285.6" x2="506.3" y2="289" stroke="#bbb" stroke-width="0.65"/>
<line x1="510.3" y1="285.6" x2="510.3" y2="289" stroke="#999" stroke-width="0.65"/>
<line x1="515.5" y1="285.6" x2="515.5" y2="289" stroke="#999" stroke-width="0.65"/>
<line x1="519.9" y1="285.6" x2="519.9" y2="289" stroke="#999" stroke-width="0.65"/>
<line x1="524.3" y1="285.6" x2="524.3" y2="289" stroke="#a0a0a0" stroke-width="0.65"/>
<line x1="527.8" y1="285.6" x2="527.8" y2="289" stroke="#bbb" stroke-width="0.65"/>
<line x1="530.4" y1="285.6" x2="530.4" y2="289" stroke="#888" stroke-width="0.65"/>
<line x1="533" y1="285.6" x2="533" y2="289" stroke="#888" stroke-width="0.65"/>
<line x1="535.2" y1="285.6" x2="535.2" y2="289" stroke="#999" stroke-width="0.65"/>
<line x1="538.3" y1="285.6" x2="538.3" y2="289" stroke="#a0a0a0" stroke-width="0.65"/>
<line x1="540.5" y1="285.6" x2="540.5" y2="289" stroke="#888" stroke-width="0.65"/>
<line x1="542.7" y1="285.6" x2="542.7" y2="289" stroke="#aaa" stroke-width="0.65"/>
<line x1="544.8" y1="285.6" x2="544.8" y2="289" stroke="#888" stroke-width="0.65"/>
<line x1="547" y1="285.6" x2="547" y2="289" stroke="#aaa" stroke-width="0.65"/>
<line x1="548.8" y1="285.6" x2="548.8" y2="289" stroke="#bbb" stroke-width="0.65"/>
<line x1="550.2" y1="285.6" x2="550.2" y2="289" stroke="#a0a0a0" stroke-width="0.65"/>
<line x1="551.4" y1="285.6" x2="551.4" y2="289" stroke="#bbb" stroke-width="0.65"/>
<line x1="552.8" y1="285.6" x2="552.8" y2="289" stroke="#bbb" stroke-width="0.65"/>
<line x1="554" y1="285.6" x2="554" y2="289" stroke="#bbb" stroke-width="0.65"/>
<line x1="555.4" y1="285.6" x2="555.4" y2="289" stroke="#a0a0a0" stroke-width="0.65"/>
<line x1="556.7" y1="285.6" x2="556.7" y2="289" stroke="#bbb" stroke-width="0.65"/>
<line x1="558" y1="285.6" x2="558" y2="289" stroke="#999" stroke-width="0.65"/>
<line x1="559.3" y1="285.6" x2="559.3" y2="289" stroke="#aaa" stroke-width="0.65"/>
<line x1="560.6" y1="285.6" x2="560.6" y2="289" stroke="#888" stroke-width="0.65"/>
<line x1="561.9" y1="285.6" x2="561.9" y2="289" stroke="#888" stroke-width="0.65"/>
<line x1="563.2" y1="285.6" x2="563.2" y2="289" stroke="#999" stroke-width="0.65"/>
<line x1="565.5" y1="285.6" x2="565.5" y2="289" stroke="#bbb" stroke-width="0.65"/>
<line x1="568.4" y1="285.6" x2="568.4" y2="289" stroke="#999" stroke-width="0.65"/>
<line x1="570.8" y1="285.6" x2="570.8" y2="289" stroke="#aaa" stroke-width="0.65"/>
<line x1="573.1" y1="285.6" x2="573.1" y2="289" stroke="#bbb" stroke-width="0.65"/>
<line x1="575.4" y1="285.6" x2="575.4" y2="289" stroke="#aaa" stroke-width="0.65"/>
<line x1="577.8" y1="285.6" x2="577.8" y2="289" stroke="#bbb" stroke-width="0.65"/>
<line x1="579.5" y1="285.6" x2="579.5" y2="289" stroke="#a0a0a0" stroke-width="0.65"/>
<line x1="581.3" y1="285.6" x2="581.3" y2="289" stroke="#bbb" stroke-width="0.65"/>
<line x1="584.8" y1="285.6" x2="584.8" y2="289" stroke="#a0a0a0" stroke-width="0.65"/>
<line x1="587.1" y1="285.6" x2="587.1" y2="289" stroke="#aaa" stroke-width="0.65"/>
<line x1="589.4" y1="285.6" x2="589.4" y2="289" stroke="#a0a0a0" stroke-width="0.65"/>
<line x1="591.8" y1="285.6" x2="591.8" y2="289" stroke="#a0a0a0" stroke-width="0.65"/>
<line x1="594.1" y1="285.6" x2="594.1" y2="289" stroke="#bbb" stroke-width="0.65"/>
<line x1="596.5" y1="285.6" x2="596.5" y2="289" stroke="#a0a0a0" stroke-width="0.65"/>
<line x1="598.2" y1="285.6" x2="598.2" y2="289" stroke="#999" stroke-width="0.65"/>
<line x1="600.5" y1="285.6" x2="600.5" y2="289" stroke="#aaa" stroke-width="0.65"/>
<line x1="602.3" y1="285.6" x2="602.3" y2="289" stroke="#888" stroke-width="0.65"/>
<line x1="604.6" y1="285.6" x2="604.6" y2="289" stroke="#aaa" stroke-width="0.65"/>
<line x1="607" y1="285.6" x2="607" y2="289" stroke="#a0a0a0" stroke-width="0.65"/>
<line x1="609.9" y1="285.6" x2="609.9" y2="289" stroke="#999" stroke-width="0.65"/>
<line x1="613.4" y1="285.6" x2="613.4" y2="289" stroke="#aaa" stroke-width="0.65"/>
<line x1="616.3" y1="285.6" x2="616.3" y2="289" stroke="#a0a0a0" stroke-width="0.65"/>
<line x1="618.1" y1="285.6" x2="618.1" y2="289" stroke="#a0a0a0" stroke-width="0.65"/>
<line x1="620.4" y1="285.6" x2="620.4" y2="289" stroke="#a0a0a0" stroke-width="0.65"/>
<line x1="626.2" y1="285.6" x2="626.2" y2="289" stroke="#888" stroke-width="0.65"/>
<line x1="629.2" y1="285.6" x2="629.2" y2="289" stroke="#999" stroke-width="0.65"/>
<line x1="630.9" y1="285.6" x2="630.9" y2="289" stroke="#a0a0a0" stroke-width="0.65"/>
<line x1="451.9" y1="296" x2="469.3" y2="296" stroke="#5fbdd3" stroke-width="1.8"/>
<text x="477" y="299.7" font-size="9" text-anchor="start" fill="#111" stroke="#111">1-Year</text>
<line x1="451.9" y1="306.7" x2="469.3" y2="306.7" stroke="#d9604a" stroke-width="1.8"/>
<text x="477" y="310.4" font-size="9" text-anchor="start" fill="#111" stroke="#111">3-Year</text>
<line x1="451.9" y1="317.5" x2="469.3" y2="317.5" stroke="#1e9c84" stroke-width="1.8"/>
<text x="477" y="321.2" font-size="9" text-anchor="start" fill="#111" stroke="#111">5-Year</text>
<polyline points="536.6,391.5 586.4,343.8 615,314.8" fill="none" stroke="#5fbdd3" stroke-width="0.9" stroke-linejoin="round"/>
<polyline points="488.1,440.6 540.3,378.4 588.4,335.6" fill="none" stroke="#d9604a" stroke-width="0.9" stroke-linejoin="round"/>
<polyline points="484.8,441 536.3,384 585.8,337.5" fill="none" stroke="#1e9c84" stroke-width="0.9" stroke-linejoin="round"/>
<line x1="536.6" y1="366.5" x2="536.6" y2="412.8" stroke="#5fbdd3" stroke-width="1.8"/>
<line x1="534.4" y1="366.5" x2="538.8" y2="366.5" stroke="#5fbdd3" stroke-width="1.5"/>
<line x1="534.4" y1="412.8" x2="538.8" y2="412.8" stroke="#5fbdd3" stroke-width="1.5"/>
<circle cx="536.6" cy="391.5" r="1.3" fill="#5fbdd3"/>
<line x1="586.4" y1="317.8" x2="586.4" y2="360.4" stroke="#5fbdd3" stroke-width="1.8"/>
<line x1="584.2" y1="317.8" x2="588.6" y2="317.8" stroke="#5fbdd3" stroke-width="1.5"/>
<line x1="584.2" y1="360.4" x2="588.6" y2="360.4" stroke="#5fbdd3" stroke-width="1.5"/>
<circle cx="586.4" cy="343.8" r="1.3" fill="#5fbdd3"/>
<line x1="615" y1="298.4" x2="615" y2="328.5" stroke="#5fbdd3" stroke-width="1.8"/>
<line x1="612.8" y1="298.4" x2="617.2" y2="298.4" stroke="#5fbdd3" stroke-width="1.5"/>
<line x1="612.8" y1="328.5" x2="617.2" y2="328.5" stroke="#5fbdd3" stroke-width="1.5"/>
<circle cx="615" cy="314.8" r="1.3" fill="#5fbdd3"/>
<line x1="484.8" y1="413" x2="484.8" y2="454.9" stroke="#1e9c84" stroke-width="1.8"/>
<line x1="482.6" y1="413" x2="487" y2="413" stroke="#1e9c84" stroke-width="1.5"/>
<line x1="482.6" y1="454.9" x2="487" y2="454.9" stroke="#1e9c84" stroke-width="1.5"/>
<circle cx="484.8" cy="441" r="1.3" fill="#1e9c84"/>
<line x1="536.3" y1="353.1" x2="536.3" y2="407.8" stroke="#1e9c84" stroke-width="1.8"/>
<line x1="534.1" y1="353.1" x2="538.5" y2="353.1" stroke="#1e9c84" stroke-width="1.5"/>
<line x1="534.1" y1="407.8" x2="538.5" y2="407.8" stroke="#1e9c84" stroke-width="1.5"/>
<circle cx="536.3" cy="384" r="1.3" fill="#1e9c84"/>
<line x1="585.8" y1="309.8" x2="585.8" y2="357.9" stroke="#1e9c84" stroke-width="1.8"/>
<line x1="583.6" y1="309.8" x2="588" y2="309.8" stroke="#1e9c84" stroke-width="1.5"/>
<line x1="583.6" y1="357.9" x2="588" y2="357.9" stroke="#1e9c84" stroke-width="1.5"/>
<circle cx="585.8" cy="337.5" r="1.3" fill="#1e9c84"/>
<line x1="488.1" y1="413" x2="488.1" y2="454.9" stroke="#d9604a" stroke-width="1.8"/>
<line x1="485.9" y1="413" x2="490.3" y2="413" stroke="#d9604a" stroke-width="1.5"/>
<line x1="485.9" y1="454.9" x2="490.3" y2="454.9" stroke="#d9604a" stroke-width="1.5"/>
<circle cx="488.1" cy="440.6" r="1.3" fill="#d9604a"/>
<line x1="540.3" y1="348.4" x2="540.3" y2="401.3" stroke="#d9604a" stroke-width="1.8"/>
<line x1="538.1" y1="348.4" x2="542.5" y2="348.4" stroke="#d9604a" stroke-width="1.5"/>
<line x1="538.1" y1="401.3" x2="542.5" y2="401.3" stroke="#d9604a" stroke-width="1.5"/>
<circle cx="540.3" cy="378.4" r="1.3" fill="#d9604a"/>
<line x1="588.4" y1="309.8" x2="588.4" y2="357.9" stroke="#d9604a" stroke-width="1.8"/>
<line x1="586.2" y1="309.8" x2="590.6" y2="309.8" stroke="#d9604a" stroke-width="1.5"/>
<line x1="586.2" y1="357.9" x2="590.6" y2="357.9" stroke="#d9604a" stroke-width="1.5"/>
<circle cx="588.4" cy="335.6" r="1.3" fill="#d9604a"/>
<line x1="444.8" y1="472.2" x2="648.2" y2="285.4" stroke="#111" stroke-width="1.7" stroke-dasharray="1.9 0.95"/>
<line x1="483.3" y1="439.8" x2="486.7" y2="443.2" stroke="#1a2fd0" stroke-width="1.2"/>
<line x1="483.3" y1="443.2" x2="486.7" y2="439.8" stroke="#1a2fd0" stroke-width="1.2"/>
<line x1="486.2" y1="439.2" x2="489.6" y2="442.6" stroke="#1a2fd0" stroke-width="1.2"/>
<line x1="486.2" y1="442.6" x2="489.6" y2="439.2" stroke="#1a2fd0" stroke-width="1.2"/>
<line x1="534.8" y1="384.7" x2="538.2" y2="388.1" stroke="#1a2fd0" stroke-width="1.2"/>
<line x1="534.8" y1="388.1" x2="538.2" y2="384.7" stroke="#1a2fd0" stroke-width="1.2"/>
<line x1="538.2" y1="382" x2="541.6" y2="385.4" stroke="#1a2fd0" stroke-width="1.2"/>
<line x1="538.2" y1="385.4" x2="541.6" y2="382" stroke="#1a2fd0" stroke-width="1.2"/>
<line x1="534.8" y1="390.4" x2="538.2" y2="393.8" stroke="#1a2fd0" stroke-width="1.2"/>
<line x1="534.8" y1="393.8" x2="538.2" y2="390.4" stroke="#1a2fd0" stroke-width="1.2"/>
<line x1="584.5" y1="336" x2="587.9" y2="339.4" stroke="#1a2fd0" stroke-width="1.2"/>
<line x1="584.5" y1="339.4" x2="587.9" y2="336" stroke="#1a2fd0" stroke-width="1.2"/>
<line x1="587" y1="333.9" x2="590.4" y2="337.3" stroke="#1a2fd0" stroke-width="1.2"/>
<line x1="587" y1="337.3" x2="590.4" y2="333.9" stroke="#1a2fd0" stroke-width="1.2"/>
<line x1="613.3" y1="313.1" x2="616.7" y2="316.5" stroke="#1a2fd0" stroke-width="1.2"/>
<line x1="613.3" y1="316.5" x2="616.7" y2="313.1" stroke="#1a2fd0" stroke-width="1.2"/>
<text x="409.4" y="552.9" font-size="12.6" text-anchor="start" fill="#000" stroke="#000">E</text>
<line x1="452.2" y1="546.4" x2="452.2" y2="720.1" stroke="#ececec" stroke-width="1"/>
<line x1="444.7" y1="706" x2="648.2" y2="706" stroke="#ececec" stroke-width="1"/>
<line x1="489.9" y1="546.4" x2="489.9" y2="720.1" stroke="#ececec" stroke-width="1"/>
<line x1="444.7" y1="675.35" x2="648.2" y2="675.35" stroke="#ececec" stroke-width="1"/>
<line x1="527.6" y1="546.4" x2="527.6" y2="720.1" stroke="#ececec" stroke-width="1"/>
<line x1="444.7" y1="644.7" x2="648.2" y2="644.7" stroke="#ececec" stroke-width="1"/>
<line x1="565.3" y1="546.4" x2="565.3" y2="720.1" stroke="#ececec" stroke-width="1"/>
<line x1="444.7" y1="614.05" x2="648.2" y2="614.05" stroke="#ececec" stroke-width="1"/>
<line x1="603" y1="546.4" x2="603" y2="720.1" stroke="#ececec" stroke-width="1"/>
<line x1="444.7" y1="583.4" x2="648.2" y2="583.4" stroke="#ececec" stroke-width="1"/>
<line x1="640.7" y1="546.4" x2="640.7" y2="720.1" stroke="#ececec" stroke-width="1"/>
<line x1="444.7" y1="552.75" x2="648.2" y2="552.75" stroke="#ececec" stroke-width="1"/>
<clipPath id="ec"><rect x="444.7" y="546.4" width="203.5" height="173.7"/></clipPath>
<g clip-path="url(#ec)">
<line x1="452.2" y1="706" x2="640.7" y2="706" stroke="#b4b4b4" stroke-width="2.2"/>
<polyline points="452.2,552.75 454.08,554.44 455.97,556.17 457.85,557.93 459.74,559.72 461.62,561.56 463.51,563.43 465.39,565.35 467.28,567.3 469.16,569.3 471.05,571.35 472.94,573.43 474.82,575.57 476.7,577.76 478.59,579.99 480.47,582.28 482.36,584.63 484.25,587.03 486.13,589.49 488.01,592.01 489.9,594.59 491.78,597.24 493.67,599.95 495.56,602.74 497.44,605.6 499.32,608.54 501.21,611.55 503.1,614.65 504.98,617.83 506.87,621.11 508.75,624.47 510.63,627.94 512.52,631.51 514.4,635.18 516.29,638.96 518.17,642.87 520.06,646.89 521.95,651.04 523.83,655.32 525.72,659.75 527.6,664.32 529.49,669.05 531.37,673.94 533.25,679 535.14,684.24 537.03,689.68 538.91,695.31 540.8,701.16 542.68,707.23 544.57,713.54 546.45,720.11 548.34,726.94 550.22,734.05" fill="none" stroke="#aaaaaa" stroke-width="0.8" stroke-linejoin="round"/>
<polyline points="452.2,552.75 453.93,554.3 455.66,555.88 457.38,557.48 459.11,559.12 460.84,560.79 462.57,562.49 463.2,564.2 465.3,566.6 467,567.4 468.22,568.3 469.87,570.06 471.52,571.86 473.17,573.7 474.82,575.57 475.5,579.4 477.6,582.3 479.5,583 481.42,583.45 482.99,585.42 484.56,587.43 486.13,589.49 486.8,588.8 493.4,593.4 499.9,597 502.6,596.2 506.5,599.3 509.1,603.9 511.1,607.8 514.4,613.1 517,617.7 520.5,617.5 523.5,618.6 527,622.1 530.5,626.2 534.6,630.9 537.5,630.3 539.9,632 542.2,637.9 545.1,638.5 547.4,640.8 548.6,643.7 549.8,642 551.5,647.2 553.9,650.7 557.4,651.9 560.3,654.2 563.2,657.3 566.4,664.5 567.9,664.7 570.5,659.7 573.4,662.9 576.3,668.5 578.4,664.6 581.9,664.6 585.4,663.5 588.9,666.2 591.4,665.8 592.9,676.7 595.7,681.2 598.6,685.8 600.9,688.1 603.7,693.8 606.6,699.6 608.9,702.4 610.6,707.6 612.3,711.6 614.1,695 616.9,696.7 619.8,702.4 621.5,691 624.9,692.7 627.8,696.7 629.5,698.4 631.8,702.4 635.3,704.7 638.7,703.6 640,705.3" fill="none" stroke="#b8191e" stroke-width="1.9" stroke-linejoin="round"/>
<polyline points="452.2,552.75 453.9,554.27 455.59,555.82 457.29,557.39 458.99,559 460.68,560.64 462.38,562.3 464.08,564 465.77,565.73 467.47,567.5 469.16,569.3 470.86,571.14 472.56,573.01 474.25,574.93 475.95,576.88 477.65,578.87 479.34,580.9 481.04,582.98 482.74,585.1 484.43,587.27 486.13,589.49 486.8,589.4 493.4,595.3 498.6,598.6 502.6,602.6 505.8,605.8 507.2,605.2 508.5,607.8 509.8,614.4 511.8,618.3 514.4,623.6 519.6,627.2 521.6,626.2 523.6,630.1 527.5,636.5 530.5,638.5 534,640.2 537.5,644.9 541,647.2 543.4,648.4 546.9,646.6 549.2,650.7 550.4,653.6 553.3,652.5 556.2,653.6 558,655.4 559.7,650.1 563.2,651.3 566.7,651.9 570.8,647.2 573.1,649.6 574.9,655.4 577.2,661.2 580.7,664.2 585.4,667.1 587.7,670.4 590.1,668.9 593.4,672.1 596.9,673.8 599.2,670.7 602.6,675.5 604.9,683 608.3,689.8 612.3,695 614.1,689.3 616.3,690.4 618.6,696.1 622.1,703 625.5,709.9 630.1,722 635.8,722 637,694.4 639.3,698.4" fill="none" stroke="#84c63c" stroke-width="1.9" stroke-linejoin="round"/>
<polyline points="452.2,552.75 454.65,554.95 457.1,557.22 459.55,559.54 462,561.93 464.45,564.38 466.9,566.91 469.35,569.5 471.8,572.18 474.25,574.93 476.7,577.76 479.16,580.68 481.61,583.68 484.06,586.79 486.51,589.99 488.96,593.29 491.41,596.7 493.86,600.23 496.31,603.87 498.76,607.65 501.21,611.55 501.9,611.8 507.8,617 513.1,621.6 515.7,626.2 518.3,632.8 520,636.7 523.5,641.4 527,645.5 528.8,647.2 530.5,650.7 532.3,648.4 534,653.9 535.8,657.7 538.7,665 541,666.8 543.4,673.4 546.3,679.2 548,688.5 551.5,693.2 555,699.1 557.4,707.2 559.7,711.9 562,710.7 564.4,703.7 566.7,695.5 569,696.7 571.4,701.4 572.6,708.4 574.9,709.6 577.2,713.1 580.1,716.6 581.3,703.7 583.1,702.6 584.8,704.3 586,702 587.7,705.8 595,705.8" fill="none" stroke="#25c0cc" stroke-width="1.9" stroke-linejoin="round"/>
<polyline points="452.2,552.75 454.65,554.95 457.1,557.22 459.55,559.54 462,561.93 464.45,564.38 466.9,566.91 469.35,569.5 471.8,572.18 474.25,574.93 476.7,577.76 479.16,580.68 481.61,583.68 484.06,586.79 486.51,589.99 488.96,593.29 491.41,596.7 493.86,600.23 496.31,603.87 498.76,607.65 501.21,611.55 502.6,609.8 506.5,613.1 515.7,622.3 520,627.4 525.8,633.8 531.7,641.4 537.5,650.7 541.5,659.5 545.5,666.5 548,672.2 549,676.9 549.8,686.2 558.5,689.7 566.7,694.4 573.7,699.1 580.7,704.3 587.7,710.7 593,718.9 595.3,706.1 640.4,706.1" fill="none" stroke="#6a1dc8" stroke-width="1.9" stroke-linejoin="round"/>
</g>
<rect x="579.3" y="545.9" width="69" height="62.8" fill="#fff" stroke="#444" stroke-width="1"/>
<line x1="579.3" y1="608.9" x2="648.3" y2="608.9" stroke="#444" stroke-width="1.6"/>
<line x1="585.1" y1="555.1" x2="600" y2="555.1" stroke="#b8191e" stroke-width="1.9"/>
<text x="605.8" y="557.9" font-size="7.9" text-anchor="start" fill="#111" stroke="#111">Nomogram</text>
<line x1="585.1" y1="564" x2="600" y2="564" stroke="#84c63c" stroke-width="1.9"/>
<text x="605.8" y="566.8" font-size="7.9" text-anchor="start" fill="#111" stroke="#111">riskScore</text>
<line x1="585.1" y1="572.9" x2="600" y2="572.9" stroke="#25c0cc" stroke-width="1.9"/>
<text x="605.8" y="575.7" font-size="7.9" text-anchor="start" fill="#111" stroke="#111">Age</text>
<line x1="585.1" y1="581.8" x2="600" y2="581.8" stroke="#6a1dc8" stroke-width="1.9"/>
<text x="605.8" y="584.6" font-size="7.9" text-anchor="start" fill="#111" stroke="#111">T</text>
<line x1="585.1" y1="590.8" x2="600" y2="590.8" stroke="#d0d0d0" stroke-width="1.9"/>
<text x="605.8" y="593.6" font-size="7.9" text-anchor="start" fill="#111" stroke="#111">All</text>
<line x1="585.1" y1="599.8" x2="600" y2="599.8" stroke="#b4b4b4" stroke-width="1.9"/>
<text x="605.8" y="602.6" font-size="7.9" text-anchor="start" fill="#111" stroke="#111">None</text>
<line x1="444.7" y1="706" x2="444.7" y2="552.75" stroke="#444" stroke-width="1"/>
<line x1="440.6" y1="706" x2="444.7" y2="706" stroke="#444" stroke-width="1"/>
<text transform="translate(435.0,706) rotate(-90)" font-size="7.8" text-anchor="middle" fill="#222" stroke="#222">0.0</text>
<line x1="440.6" y1="675.35" x2="444.7" y2="675.35" stroke="#444" stroke-width="1"/>
<text transform="translate(435.0,675.35) rotate(-90)" font-size="7.8" text-anchor="middle" fill="#222" stroke="#222">0.2</text>
<line x1="440.6" y1="644.7" x2="444.7" y2="644.7" stroke="#444" stroke-width="1"/>
<text transform="translate(435.0,644.7) rotate(-90)" font-size="7.8" text-anchor="middle" fill="#222" stroke="#222">0.4</text>
<line x1="440.6" y1="614.05" x2="444.7" y2="614.05" stroke="#444" stroke-width="1"/>
<text transform="translate(435.0,614.05) rotate(-90)" font-size="7.8" text-anchor="middle" fill="#222" stroke="#222">0.6</text>
<line x1="440.6" y1="583.4" x2="444.7" y2="583.4" stroke="#444" stroke-width="1"/>
<text transform="translate(435.0,583.4) rotate(-90)" font-size="7.8" text-anchor="middle" fill="#222" stroke="#222">0.8</text>
<line x1="440.6" y1="552.75" x2="444.7" y2="552.75" stroke="#444" stroke-width="1"/>
<text transform="translate(435.0,552.75) rotate(-90)" font-size="7.8" text-anchor="middle" fill="#222" stroke="#222">1.0</text>
<line x1="452.2" y1="720.4" x2="640.7" y2="720.4" stroke="#555" stroke-width="1"/>
<line x1="452.2" y1="720.4" x2="452.2" y2="724.6" stroke="#555" stroke-width="1"/>
<text x="452.2" y="737" font-size="7.7" text-anchor="middle" fill="#222" stroke="#222">0.0</text>
<line x1="489.9" y1="720.4" x2="489.9" y2="724.6" stroke="#555" stroke-width="1"/>
<text x="489.9" y="737" font-size="7.7" text-anchor="middle" fill="#222" stroke="#222">0.2</text>
<line x1="527.6" y1="720.4" x2="527.6" y2="724.6" stroke="#555" stroke-width="1"/>
<text x="527.6" y="737" font-size="7.7" text-anchor="middle" fill="#222" stroke="#222">0.4</text>
<line x1="565.3" y1="720.4" x2="565.3" y2="724.6" stroke="#555" stroke-width="1"/>
<text x="565.3" y="737" font-size="7.7" text-anchor="middle" fill="#222" stroke="#222">0.6</text>
<line x1="603" y1="720.4" x2="603" y2="724.6" stroke="#555" stroke-width="1"/>
<text x="603" y="737" font-size="7.7" text-anchor="middle" fill="#222" stroke="#222">0.8</text>
<line x1="640.7" y1="720.4" x2="640.7" y2="724.6" stroke="#555" stroke-width="1"/>
<text x="640.7" y="737" font-size="7.7" text-anchor="middle" fill="#222" stroke="#222">1.0</text>
<text x="546.6" y="748" font-size="9.3" text-anchor="middle" fill="#222" stroke="#222">High Risk Threshold</text>
<text transform="translate(416.6,631.7) rotate(-90)" font-size="7.8" text-anchor="middle" fill="#222" stroke="#222">Standardized Net Benefit</text>
<line x1="454.07" y1="756.1" x2="638.83" y2="756.1" stroke="#555" stroke-width="1"/>
<line x1="454.07" y1="756.1" x2="454.07" y2="760" stroke="#555" stroke-width="1"/>
<text x="454.07" y="772.6" font-size="7.8" text-anchor="middle" fill="#222" stroke="#222">1:100</text>
<line x1="489.9" y1="756.1" x2="489.9" y2="760" stroke="#555" stroke-width="1"/>
<text x="489.9" y="772.6" font-size="7.8" text-anchor="middle" fill="#222" stroke="#222">1:4</text>
<line x1="527.6" y1="756.1" x2="527.6" y2="760" stroke="#555" stroke-width="1"/>
<text x="527.6" y="772.6" font-size="7.8" text-anchor="middle" fill="#222" stroke="#222">2:3</text>
<line x1="565.3" y1="756.1" x2="565.3" y2="760" stroke="#555" stroke-width="1"/>
<text x="565.3" y="772.6" font-size="7.8" text-anchor="middle" fill="#222" stroke="#222">3:2</text>
<line x1="603" y1="756.1" x2="603" y2="760" stroke="#555" stroke-width="1"/>
<text x="603" y="772.6" font-size="7.8" text-anchor="middle" fill="#222" stroke="#222">4:1</text>
<line x1="638.83" y1="756.1" x2="638.83" y2="760" stroke="#555" stroke-width="1"/>
<text x="638.83" y="772.6" font-size="7.8" text-anchor="middle" fill="#222" stroke="#222">100:1</text>
<text x="546.3" y="782.4" font-size="9.3" text-anchor="middle" fill="#222" stroke="#222">Cost:Benefit Ratio</text>
</svg>
</body></html>
